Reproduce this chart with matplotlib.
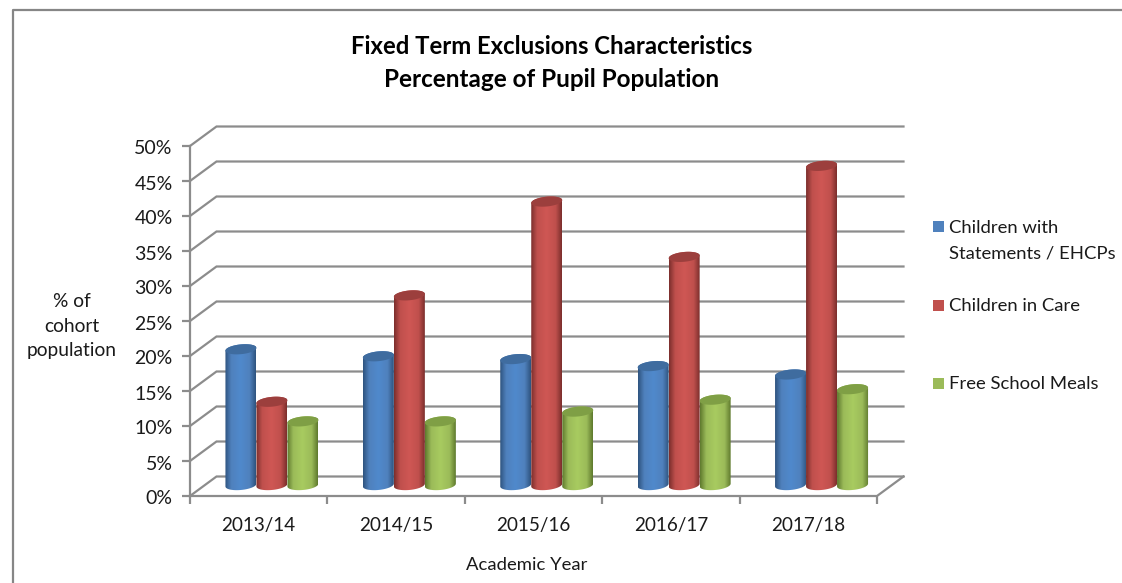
import numpy as np
import matplotlib
matplotlib.use('Agg')
import matplotlib.pyplot as plt
from matplotlib.colors import LinearSegmentedColormap
from matplotlib.patches import Polygon, Rectangle
from matplotlib.transforms import ScaledTranslation

years = ['2013/14', '2014/15', '2015/16', '2016/17', '2017/18']
statements = [19.4, 18.4, 18.0, 17.0, 15.8]
in_care = [11.9, 27.1, 40.5, 32.6, 45.6]
free_meals = [9.1, 9.1, 10.5, 12.2, 13.7]
y_ticks = [0, 5, 10, 15, 20, 25, 30, 35, 40, 45, 50]

series = [
    ('Children with\nStatements / EHCPs', statements, '#4f81bd', '#5089cc', '#2f5480', '#3f6c9f', 226),
    ('Children in Care', in_care, '#c0504d', '#cf5754', '#7c2f2d', '#9c3f3d', 305),
    ('Free School Meals', free_meals, '#9bbb59', '#a8cb60', '#5f7a2e', '#7f9f45', 383),
]

W, H = 1122, 583
GREY = '#8c8c8c'
TEXT = '#1a1a1a'
plt.rcParams['font.family'] = ['Lato', 'DejaVu Sans']

fig = plt.figure(figsize=(W / 100, H / 100), dpi=100)
ax = fig.add_axes([190 / W, 1 - 496 / H, 687 / W, 350 / H])
ax.set_xlim(0, 5)
ax.set_ylim(0, 50)
for s in ax.spines.values():
    s.set_visible(False)

# depth of the fake 3d box, in data units
depth_x = 26.5 / 137.4
depth_y = 19.5 / 7
bar_w = 31 / 137.4
ell_a = bar_w / 2
ell_b = 0.7
ell_tilt = 0.2


def cylinder(cx, top, base, main, light, edge, cap):
    t = np.linspace(0, 2 * np.pi, 80)
    left, right = cx - ell_a, cx + ell_a
    # body outline: bottom half ellipse then top half ellipse
    tb = np.linspace(np.pi, 2 * np.pi, 40)
    lower_x = cx + ell_a * np.cos(tb)
    lower_y = base + ell_b * np.sin(tb) + ell_tilt * np.cos(tb)
    tt = np.linspace(0, np.pi, 40)
    upper_x = cx + ell_a * np.cos(tt)
    upper_y = top + ell_b * np.sin(tt) + ell_tilt * np.cos(tt)
    outline = np.column_stack([np.r_[lower_x, upper_x], np.r_[lower_y, upper_y]])
    poly = Polygon(outline, closed=True, transform=ax.transData, facecolor='none', edgecolor='none')
    ax.add_patch(poly)
    cmap = LinearSegmentedColormap.from_list(
        'c', [(0, edge), (0.2, main), (0.5, light), (0.8, main), (1, edge)], N=64)
    grad = np.linspace(0, 1, 64).reshape(1, -1)
    im = ax.imshow(grad, extent=[left, right, base - 2, top + 2], aspect='auto', cmap=cmap,
                   zorder=3, clip_on=True)
    im.set_clip_path(poly)
    ax.fill(cx + ell_a * np.cos(t), top + ell_b * np.sin(t) + ell_tilt * np.cos(t),
            color=cap, lw=0, zorder=3, clip_on=False)


# back wall and side wall gridlines
for v in y_ticks:
    ax.plot([0, depth_x, 5 + depth_x], [v, v + depth_y, v + depth_y], color=GREY, lw=1.6,
            clip_on=False, zorder=1, solid_joinstyle='miter')
# floor and axes
ax.plot([0, 0], [0, 50], color=GREY, lw=1.6, clip_on=False, zorder=2)
ax.plot([0, 5, 5 + depth_x], [0, 0, depth_y], color=GREY, lw=1.6, clip_on=False, zorder=2)

ax.set_xticks(np.arange(6))
ax.set_xticklabels([])
ax.set_yticks(y_ticks)
ax.set_yticklabels([f'{v}%' for v in y_ticks], fontsize=14, color=TEXT)
ax.tick_params(axis='both', length=5.5, width=1.6, color=GREY)
ax.tick_params(axis='y', pad=7)
# nudge the percent labels down a touch
for lab in ax.get_yticklabels():
    lab.set_transform(lab.get_transform() + ScaledTranslation(0, -1.5 / 100, fig.dpi_scale_trans))
for i, y in enumerate(years):
    ax.text(i + 0.5, -4.2, y, ha='center', va='center', fontsize=13.6, color=TEXT)

base = 1.56
for k, (name, vals, main, light, edge, cap, ly) in enumerate(series):
    for i, v in enumerate(vals):
        cx = i + 0.5 + depth_x / 2 + (k - 1) * bar_w
        cylinder(cx, v + base, base, main, light, edge, cap)
ax.set_xlim(0, 5)
ax.set_ylim(0, 50)

# title and axis titles
fig.text(552 / W, 1 - 47 / H, 'Fixed Term Exclusions Characteristics', ha='center', va='center',
         fontsize=17.2, fontweight='bold', color='black')
fig.text(552 / W, 1 - 80 / H, 'Percentage of Pupil Population', ha='center', va='center',
         fontsize=17.5, fontweight='bold', color='black')
fig.text(527 / W, 1 - 565 / H, 'Academic Year', ha='center', va='center', fontsize=13.3, color=TEXT)
fig.text(72 / W, 1 - 326 / H, '% of\ncohort\npopulation', ha='center', va='center', fontsize=13.8,
         color=TEXT, linespacing=1.55)

# legend
for name, vals, main, light, edge, cap, ly in series:
    fig.add_artist(Rectangle((933 / W, 1 - (ly + 6) / H), 11 / W, 11 / H, transform=fig.transFigure,
                             facecolor=main, edgecolor='none'))
    offset = 6 if '\n' in name else 7
    fig.text(949 / W, 1 - (ly - offset) / H, name, ha='left', va='top', fontsize=13.3, color=TEXT, linespacing=1.7)

# chart frame
fig.add_artist(plt.Line2D([12.5 / W, 12.5 / W, 1], [0, 1 - 10 / H, 1 - 10 / H], color='#868686', lw=1.6,
                          transform=fig.transFigure))

fig.savefig('out.png', dpi=100)
